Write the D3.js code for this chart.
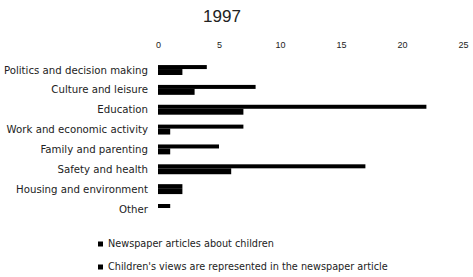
<!DOCTYPE html>
<html>
<head>
    <script src="https://d3js.org/d3.v7.min.js"></script>
    <style>
        body { margin: 0; background: #fff; }
        text { font-family: "DejaVu Sans", Verdana, sans-serif; fill: #222; }
    </style>
</head>
<body>
    <div id="chart"></div>
    <script>
        const categories = [
            "Politics and decision making",
            "Culture and leisure",
            "Education",
            "Work and economic activity",
            "Family and parenting",
            "Safety and health",
            "Housing and environment",
            "Other"
        ];
        const articles = [4, 8, 22, 7, 5, 17, 2, 1];
        const childrensViews = [2, 3, 7, 1, 1, 6, 2, 0];
        const seriesNames = [
            "Newspaper articles about children",
            "Children's views are represented in the newspaper article"
        ];
        const ticks = [0, 5, 10, 15, 20, 25];

        const width = 473, height = 277;

        const svg = d3.select("#chart").append("svg")
            .attr("width", width)
            .attr("height", height);

        const x = d3.scaleLinear().domain([0, 25]).range([158, 463]);
        const y = d3.scaleBand()
            .domain(categories)
            .range([60, 219])
            .paddingInner(0.5)
            .paddingOuter(0.255);

        // title
        svg.append("text")
            .attr("x", 222)
            .attr("y", 22)
            .attr("text-anchor", "middle")
            .style("font-family", "Liberation Sans, Arial, sans-serif")
            .style("font-size", "17px")
            .text("1997");

        // top axis, labels only
        const axis = svg.append("g")
            .attr("transform", "translate(0,48)")
            .call(d3.axisTop(x).tickValues(ticks).tickSize(0).tickPadding(0));
        axis.select(".domain").remove();
        axis.selectAll("text")
            .style("font-size", "9px")
            .style("font-family", "Liberation Sans, Arial, sans-serif")
            .attr("fill", "#222");

        // category labels
        svg.selectAll(".cat")
            .data(categories)
            .enter().append("text")
            .attr("class", "cat")
            .attr("x", 148)
            .attr("y", d => y(d) + y.bandwidth() / 2)
            .attr("dy", "0.35em")
            .attr("text-anchor", "end")
            .style("font-size", "10.2px")
            .text(d => d);

        const topH = 4;
        // series 1 (thin, upper)
        svg.selectAll(".bar1")
            .data(articles)
            .enter().append("rect")
            .attr("class", "bar1")
            .attr("x", x(0))
            .attr("y", (d, i) => y(categories[i]))
            .attr("width", d => x(d) - x(0))
            .attr("height", topH)
            .attr("fill", "#000");

        // series 2 (thicker, lower)
        svg.selectAll(".bar2")
            .data(childrensViews)
            .enter().append("rect")
            .attr("class", "bar2")
            .attr("x", x(0))
            .attr("y", (d, i) => y(categories[i]) + topH)
            .attr("width", d => x(d) - x(0))
            .attr("height", y.bandwidth() - topH)
            .attr("fill", "#000");

        // legend
        const legend = svg.selectAll(".legend")
            .data(seriesNames)
            .enter().append("g")
            .attr("class", "legend")
            .attr("transform", (d, i) => "translate(98," + (244 + i * 23) + ")");
        legend.append("rect")
            .attr("x", 0)
            .attr("y", -2.5)
            .attr("width", 5)
            .attr("height", 5)
            .attr("fill", "#000");
        legend.append("text")
            .attr("x", 10)
            .attr("y", 0)
            .attr("dy", "0.35em")
            .style("font-size", "9.7px")
            .text(d => d);
    </script>
</body>
</html>
